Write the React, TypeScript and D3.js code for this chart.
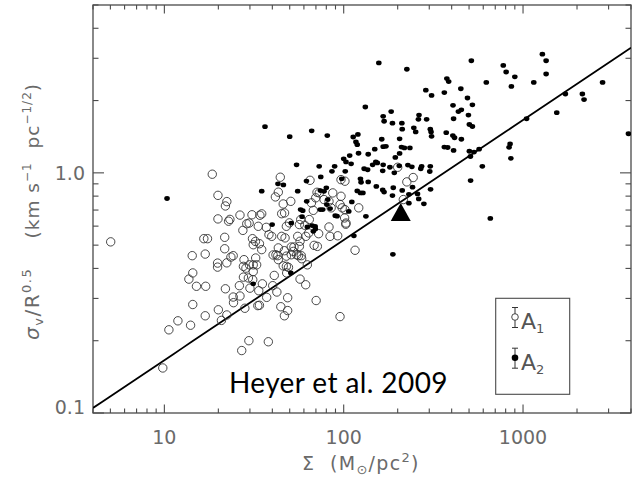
import React from 'react';
import * as d3 from 'd3';

// Surface density Σ (M⊙/pc²) and σv/R^0.5 (km s^-1 pc^-1/2)
const A1_POINTS: [number, number][] = [
  [18.5,0.987],[5.02,0.516],[19.9,0.806],[22.3,0.759],[21.9,0.728],[19.9,0.643],[23.2,0.640],[22.8,0.629],
  [26.4,0.667],[28.8,0.614],[29.7,0.618],[27.4,0.576],[34.1,0.666],[33.4,0.599],[37.0,0.593],[16.6,0.532],
  [17.4,0.532],[21.7,0.539],[31.0,0.532],[32.2,0.518],[21.7,0.483],[14.3,0.452],[16.9,0.459],[24.2,0.452],
  [23.5,0.446],[19.8,0.421],[19.8,0.405],[22.3,0.422],[27.8,0.435],[27.6,0.408],[28.5,0.401],[29.8,0.414],
  [31.3,0.414],[32.7,0.414],[32.3,0.442],[14.4,0.383],[13.7,0.361],[15.1,0.337],[17.0,0.337],[21.9,0.329],
  [26.2,0.339],[27.6,0.368],[29.4,0.365],[31.3,0.388],[31.1,0.359],[24.2,0.304],[26.4,0.307],[24.3,0.288],
  [28.1,0.273],[33.2,0.280],[14.4,0.283],[16.9,0.254],[20.0,0.269],[22.3,0.256],[20.8,0.243],[11.9,0.242],
  [10.6,0.222],[14.0,0.232],[29.6,0.200],[27.0,0.182],[9.8,0.154],[44.3,0.959],[43.2,0.831],[41.6,0.794],
  [64.9,0.931],[96.6,0.937],[101.6,0.923],[86.9,0.825],[115.7,0.476],[95.4,0.738],[98.1,0.715],[101.6,0.703],
  [121.3,0.715],[103,0.618],[73.1,0.825],[71,0.83],[69.8,0.787],[50.7,0.761],[46,0.742],[67.7,0.698],
  [66.1,0.75],[34.9,0.675],[45.1,0.676],[46.8,0.681],[38.3,0.553],[39.7,0.544],[47.9,0.599],[49.8,0.619],
  [57.6,0.639],[56.6,0.609],[60.7,0.605],[64.3,0.639],[82.8,0.595],[92.6,0.547],[83.9,0.544],[72.5,0.558],
  [63.8,0.562],[61.5,0.544],[55.4,0.544],[57.1,0.519],[52.8,0.491],[45.1,0.544],[47.1,0.536],[31.3,0.502],
  [33.9,0.507],[34.9,0.479],[43.2,0.487],[41.9,0.456],[46.7,0.474],[51,0.491],[52.4,0.471],[54.7,0.456],
  [56.6,0.494],[58.3,0.439],[68.4,0.499],[71.3,0.494],[62.7,0.414],[46,0.41],[47.9,0.408],[49.2,0.404],
  [48.1,0.383],[43.2,0.435],[35.2,0.345],[40.2,0.339],[41,0.374],[42.4,0.319],[37.2,0.303],[33.9,0.281],
  [44.6,0.277],[48.7,0.302],[48.7,0.267],[46.7,0.254],[57.1,0.361],[61.4,0.342],[70.2,0.294],[95.4,0.252],
  [38,0.198],[102.7,0.611],[101.2,0.649],[200,1.055],[225,0.917],[244,0.956],[215,0.774],[40.4,0.455],
  [42.9,0.452],[47.9,0.45],[51,0.456],[56,0.452],[58,0.452],[33.6,0.323],[30,0.331],[77.7,0.774],
  [96.6,0.799],[82.8,0.761],[85.1,0.715],[30.8,0.669],
];

const A2_POINTS: [number, number][] = [
  [157,2.87],[225,2.70],[515,2.93],[776,2.80],[805,2.63],[900,2.51],[861,2.29],[1282,3.12],[1345,2.93],
  [1345,2.58],[1148,2.38],[624,2.38],[376,2.47],[385,2.40],[287,2.21],[309,2.10],[364,2.16],[450,2.24],
  [490,2.05],[522,1.92],[407,1.91],[436,1.80],[453,1.83],[496,1.74],[410,1.68],[502,1.59],[522,1.56],
  [132,1.88],[184,1.80],[166,1.72],[168,1.64],[187,1.61],[211,1.61],[263,1.74],[261,1.67],[290,1.67],
  [212,1.52],[246,1.54],[252,1.48],[304,1.52],[307,1.48],[309,1.42],[373,1.47],[406,1.43],[415,1.40],
  [453,1.38],[410,1.24],[364,1.28],[380,1.275],[502,1.23],[533,1.22],[509,1.17],[569,1.255],[81,1.43],
  [113,1.41],[120,1.445],[117,1.344],[119,1.31],[163,1.38],[166,1.285],[172,1.29],[205,1.386],[210,1.28],
  [218,1.27],[234,1.27],[205,1.205],[194,1.16],[149,1.255],[137,1.195],[121,1.207],[108,1.18],[100,1.144],
  [103,1.11],[110,1.09],[89,1.065],[86,1.015],[73,1.065],[151,1.11],[154,1.10],[145,1.08],[166,1.08],
  [165,1.02],[130,1.04],[136,1.03],[181,1.055],[191.5,1.0],[204,1.07],[228,1.077],[240,1.06],[272,1.065],
  [269,1.04],[304,1.065],[302,1.013],[74.5,0.962],[102,1.015],[97.5,0.944],[124,0.944],[125,0.914],
  [137,0.917],[152,0.878],[165,0.849],[168,0.832],[189,0.867],[212,0.845],[187,0.804],[242,0.872],
  [305,0.854],[231,0.814],[258,0.817],[262,0.779],[280,0.743],[231,0.748],[119,0.841],[124,0.825],
  [128,0.825],[111,0.757],[133,0.659],[510,0.929],[593,1.065],[847,1.32],[836,1.277],[855,1.15],
  [657,0.646],[1047,1.68],[1542,1.78],[1723,2.13],[2142,2.13],[2189,2.02],[2777,2.38],[3870,1.455],
  [114,0.547],[188,0.458],[36.4,1.557],[50,1.414],[66.3,1.497],[10.35,0.782],[54.6,1.08],[34.9,0.839],
  [43,0.90],[46.1,0.891],[55.4,0.839],[62,0.924],[62.2,0.761],[57.5,0.703],[58.6,0.657],[51,0.618],
  [69.3,0.599],[39.9,0.609],[80,0.866],[77.7,0.838],[74.1,0.844],[81.5,0.774],[80.5,0.738],[74,0.703],
  [91.8,0.66],[89.7,0.663],[106.7,0.691],[76.4,0.703],[59.1,0.696],[62.7,0.595],[66.7,0.603],
  [69.5,0.584],[67.7,0.571],[31.3,0.345],[50.7,0.383],[84,0.71],
];

const REF_POINT: [number, number][] = [[208, 0.68]];
const FIT_COEF = 0.0525;
const FIT_EXP = 0.5;

const X_DOMAIN: [number, number] = [4, 4000];
const Y_DOMAIN: [number, number] = [0.1, 5];
const X_TICKS = [10, 100, 1000];
const X_TICK_LABELS = ['10', '100', '1000'];
const Y_TICKS = [0.1, 1];
const Y_TICK_LABELS = ['0.1', '1.0'];
const LEGEND_SUBS = ['1', '2'];
const ANNOTATION = 'Heyer et al. 2009';

const W = 634, H = 484;
const L = 93, R = 631, T = 5, B = 413;
const AXIS = '#4a4a4a';
const LABEL = '#6a6a6a';
const FONT = "'DejaVu Sans', sans-serif";

export default function App() {
  const x = d3.scaleLog().domain(X_DOMAIN).range([L, R]);
  const y = d3.scaleLog().domain(Y_DOMAIN).range([B, T]);
  const isMajor = (v: number) => Math.abs(Math.log10(v) - Math.round(Math.log10(v))) < 1e-6;
  const xMinor = x.ticks().filter((v) => !isMajor(v));
  const yMinor = y.ticks().filter((v) => !isMajor(v));
  const fitData = d3.range(0, 61).map((i) => {
    const s = X_DOMAIN[0] * Math.pow(X_DOMAIN[1] / X_DOMAIN[0], i / 60);
    return [s, FIT_COEF * Math.pow(s, FIT_EXP)] as [number, number];
  });
  const line = d3.line<[number, number]>().x((d) => x(d[0])).y((d) => y(d[1]));

  const xMajLen = 8.5, xMinLen = 4.5, yMajLen = 11, yMinLen = 5.5;

  return (
    <svg width={W} height={H} style={{ position: 'absolute', left: 0, top: 0, background: '#fff' }}>
      <defs>
        <clipPath id="plotclip">
          <rect x={L} y={T} width={R - L} height={B - T} />
        </clipPath>
      </defs>
      <rect x={0} y={0} width={W} height={H} fill="#fff" />

      {/* ticks */}
      <g stroke={AXIS} strokeWidth={1.1}>
        {X_TICKS.map((v) => (
          <g key={'xM' + v}>
            <line x1={x(v)} x2={x(v)} y1={B} y2={B - xMajLen} />
            <line x1={x(v)} x2={x(v)} y1={T} y2={T + xMajLen} />
          </g>
        ))}
        {xMinor.map((v) => (
          <g key={'xm' + v}>
            <line x1={x(v)} x2={x(v)} y1={B} y2={B - xMinLen} />
            <line x1={x(v)} x2={x(v)} y1={T} y2={T + xMinLen} />
          </g>
        ))}
        {Y_TICKS.map((v) => (
          <g key={'yM' + v}>
            <line x1={L} x2={L + yMajLen} y1={y(v)} y2={y(v)} />
            <line x1={R} x2={R - yMajLen} y1={y(v)} y2={y(v)} />
          </g>
        ))}
        {yMinor.map((v) => (
          <g key={'ym' + v}>
            <line x1={L} x2={L + yMinLen} y1={y(v)} y2={y(v)} />
            <line x1={R} x2={R - yMinLen} y1={y(v)} y2={y(v)} />
          </g>
        ))}
      </g>
      <rect x={L} y={T} width={R - L} height={B - T} fill="none" stroke={AXIS} strokeWidth={1.3} />

      {/* tick labels */}
      <g fontFamily={FONT} fontSize={19} fill={LABEL}>
        {X_TICKS.map((v, i) => (
          <text key={'xl' + v} x={x(v)} y={444} textAnchor="middle">{X_TICK_LABELS[i]}</text>
        ))}
        {Y_TICKS.map((v, i) => (
          <text key={'yl' + v} x={85} y={Math.min(y(v) + 7, B + 1)} textAnchor="end">{Y_TICK_LABELS[i]}</text>
        ))}
      </g>

      {/* axis titles */}
      <text x={302} y={470} fontFamily={FONT} fontSize={19} fill={LABEL} letterSpacing={1.3} style={{ whiteSpace: 'pre' }}>
        <tspan>Σ  (M</tspan>
        <tspan fontSize={13} dy={4}>⊙</tspan>
        <tspan dy={-4}>/pc</tspan>
        <tspan fontSize={13} dy={-8}>2</tspan>
        <tspan dy={8}>)</tspan>
      </text>
      <g transform="translate(39,340) rotate(-90)">
        <text x={0} y={0} fontFamily={FONT} fontSize={20} fill={LABEL} letterSpacing={1.5} style={{ whiteSpace: 'pre' }}>
          <tspan fontStyle="italic">σ</tspan>
          <tspan fontSize={13} dy={4}>v</tspan>
          <tspan dy={-4}>/R</tspan>
          <tspan fontSize={13} dy={-8}>0.5</tspan>
        </text>
      </g>
      <g transform="translate(39,83) rotate(-90)">
        <text x={0} y={0} fontFamily={FONT} fontSize={18.5} fill={LABEL} textAnchor="end" letterSpacing={1} style={{ whiteSpace: 'pre' }}>
          <tspan>(km s</tspan>
          <tspan fontSize={12} dy={-8}>−1</tspan>
          <tspan dy={8}>  pc</tspan>
          <tspan fontSize={12} dy={-8}>−1/2</tspan>
          <tspan dy={8}>)</tspan>
        </text>
      </g>

      {/* data */}
      <g clipPath="url(#plotclip)">
        <path d={line(fitData) || ''} fill="none" stroke="#000" strokeWidth={1.8} />
        {A1_POINTS.map((d, i) => (
          <circle key={'a1' + i} cx={x(d[0])} cy={y(d[1])} r={4.2} fill="none" stroke="#333" strokeWidth={0.9} />
        ))}
        {A2_POINTS.map((d, i) => (
          <ellipse key={'a2' + i} cx={x(d[0])} cy={y(d[1])} rx={2.8} ry={2.4} fill="#000" />
        ))}
        {REF_POINT.map((d, i) => {
          const cx = x(d[0]), cy = y(d[1]);
          return <path key={'ref' + i} d={`M${cx},${cy - 10}L${cx - 10},${cy + 8}L${cx + 10},${cy + 8}Z`} fill="#000" />;
        })}
      </g>

      {/* annotation */}
      <text x={229} y={393} fontFamily="Lato, 'Open Sans', sans-serif" fontSize={28} letterSpacing={0.4} fill="#000">{ANNOTATION}</text>

      {/* legend */}
      <rect x={495.7} y={298.3} width={74} height={96} fill="none" stroke={AXIS} strokeWidth={1.1} />
      {LEGEND_SUBS.map((s, i) => {
        const cy = i === 0 ? 317 : 357.7;
        const base = i === 0 ? 328.5 : 369.5;
        return (
          <g key={'lg' + i}>
            <g stroke="#333" strokeWidth={1}>
              <line x1={515} x2={515} y1={cy - 9.5} y2={cy + 10.5} />
              <line x1={512} x2={518} y1={cy - 9.5} y2={cy - 9.5} />
              <line x1={512} x2={518} y1={cy + 10.5} y2={cy + 10.5} />
            </g>
            {i === 0 ? (
              <circle cx={515} cy={cy} r={3.3} fill="#fff" stroke="#333" strokeWidth={0.9} />
            ) : (
              <circle cx={515} cy={cy} r={3.3} fill="#000" />
            )}
            <text x={521} y={base} fontFamily={FONT} fontSize={22} fill="#555">
              A<tspan fontSize={13} dy={4}>{s}</tspan>
            </text>
          </g>
        );
      })}
    </svg>
  );
}
